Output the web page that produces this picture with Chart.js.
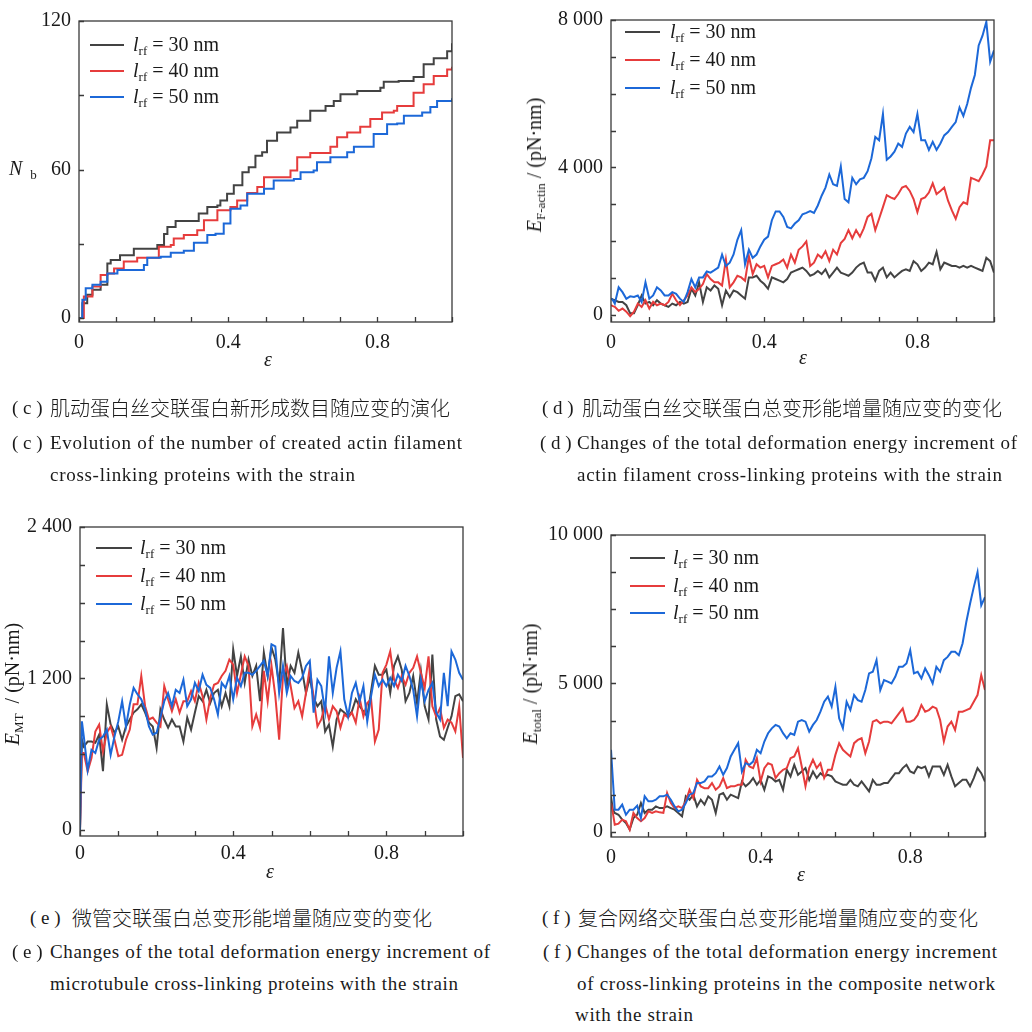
<!DOCTYPE html>
<html>
<head>
<meta charset="utf-8">
<script src="https://cdn.jsdelivr.net/npm/chart.js@4.4.1/dist/chart.umd.min.js"></script>
<style>
  body { margin: 0; background: #fff; }
  #page { position: relative; width: 1032px; height: 1032px; overflow: hidden;
          font-family: "Liberation Serif", "DejaVu Serif", serif; color: #1a1a1a; }
  canvas { position: absolute; display: block; }
  .t { position: absolute; white-space: nowrap; font-size: 20px; line-height: 20px; }
  .rot { transform: translate(-50%, -50%) rotate(-90deg); }
  .t sub { font-size: 13px; vertical-align: -4px; line-height: 0; }
  .sw { position: absolute; height: 2px; }
  .cap { position: absolute; white-space: nowrap; font-size: 19px; line-height: 20px; }
  .cn { font-family: "Noto Sans CJK SC", sans-serif; font-size: 20px; font-weight: 300; }
</style>
</head>
<body>
<div id="page">
  <canvas id="chartC" width="470" height="380" style="left:0;top:0"></canvas>
  <canvas id="chartD" width="512" height="380" style="left:520px;top:0"></canvas>
  <canvas id="chartE" width="470" height="390" style="left:0;top:500px"></canvas>
  <canvas id="chartF" width="512" height="390" style="left:520px;top:500px"></canvas>
</div>
<script>
// --- Data ---

const seriesColors = ["#434343", "#e63c3c", "#1c68d8"];
const legendLabels = ["30", "40", "50"];

// (c) number of created cross-links, read as step corners
const nbStrain30 = [0, 0.009, 0.022, 0.036, 0.058, 0.076, 0.085, 0.11, 0.147, 0.19,
  0.21, 0.228, 0.237, 0.259, 0.312, 0.321, 0.344, 0.371, 0.379, 0.397,
  0.415, 0.438, 0.455, 0.473, 0.491, 0.504, 0.531, 0.567, 0.585, 0.62,
  0.661, 0.683, 0.701, 0.746, 0.808, 0.817, 0.857, 0.897, 0.924, 0.951, 0.987, 1.0];
const nb30 = [0, 6, 9.4, 11.4, 13.4, 22, 23.4, 25.4, 28, 28,
  29.5, 34, 36.8, 39.2, 39.2, 42.2, 44.9, 45.5, 47.5, 50.2,
  53.6, 58.9, 60.9, 65.6, 67, 71.6, 75, 77, 79.7, 83.7,
  85.7, 87.7, 90.4, 91.7, 93, 95.5, 95.8, 97.4, 102.5, 105, 107.8, 111];
const nbStrain40 = [0, 0.013, 0.036, 0.058, 0.076, 0.094, 0.12, 0.156, 0.192, 0.214,
  0.246, 0.254, 0.281, 0.317, 0.335, 0.371, 0.406, 0.424, 0.451, 0.478,
  0.496, 0.54, 0.567, 0.585, 0.62, 0.674, 0.692, 0.719, 0.754, 0.781,
  0.8125, 0.844, 0.853, 0.884, 0.897, 0.924, 0.951, 0.987, 1.0];
const nb40 = [0, 8.7, 12.7, 17.4, 18, 20, 22.8, 24.4, 24.4, 28.8,
  29.5, 32.1, 33.5, 35.5, 39.5, 43.5, 44.9, 47.5, 50.5, 52.9,
  56.9, 56.9, 59.6, 65, 66.7, 69.2, 73, 75, 77.3, 80.4,
  83, 83.7, 85.7, 85.7, 91, 94.4, 97.8, 100.4, 101.5];
const nbStrain50 = [0, 0.009, 0.018, 0.036, 0.058, 0.076, 0.103, 0.147, 0.174, 0.183,
  0.219, 0.246, 0.281, 0.308, 0.344, 0.366, 0.388, 0.406, 0.433, 0.451,
  0.496, 0.522, 0.576, 0.594, 0.629, 0.638, 0.674, 0.719, 0.737, 0.777,
  0.79, 0.826, 0.853, 0.871, 0.92, 0.942, 0.96, 1.0];
const nb50 = [0, 7.4, 12, 13.4, 14.7, 18, 19.4, 19.4, 21.4, 24.4,
  24.8, 26.4, 27.2, 30.4, 33.5, 34.1, 38.2, 44.2, 45.5, 50.2,
  52.2, 55.6, 56.2, 58.9, 59.6, 62.9, 65, 67, 69.2, 69.2,
  74.3, 78.3, 78.6, 81.7, 83, 85.3, 87.7, 88.8];

// shared strain grid for (d), (e), (f)
const strain = [0, 0.005,
  0.01, 0.02, 0.03, 0.04, 0.05, 0.06, 0.07, 0.08, 0.09, 0.10,
  0.11, 0.12, 0.13, 0.14, 0.15, 0.16, 0.17, 0.18, 0.19, 0.20,
  0.21, 0.22, 0.23, 0.24, 0.25, 0.26, 0.27, 0.28, 0.29, 0.30,
  0.31, 0.32, 0.33, 0.34, 0.35, 0.36, 0.37, 0.38, 0.39, 0.40,
  0.41, 0.42, 0.43, 0.44, 0.45, 0.46, 0.47, 0.48, 0.49, 0.50,
  0.51, 0.52, 0.53, 0.54, 0.55, 0.56, 0.57, 0.58, 0.59, 0.60,
  0.61, 0.62, 0.63, 0.64, 0.65, 0.66, 0.67, 0.68, 0.69, 0.70,
  0.71, 0.72, 0.73, 0.74, 0.75, 0.76, 0.77, 0.78, 0.79, 0.80,
  0.81, 0.82, 0.83, 0.84, 0.85, 0.86, 0.87, 0.88, 0.89, 0.90,
  0.91, 0.92, 0.93, 0.94, 0.95, 0.96, 0.97, 0.98, 0.99, 1.00];

// (d) E F-actin
const eActin30 = [443, 420,
  400, 355, 355, 265, 45, 45, 265, 530, 310, 355,
  265, 400, 310, 265, 220, 310, 265, 355, 310, 355,
  710, 530, 885, 355, 750, 665, 800, 710, 265, 665,
  490, 665, 620, 530, 443, 1020, 1020, 1065, 930, 840,
  710, 1020, 975, 930, 885, 975, 1150, 1195, 1240, 1285,
  1195, 1065, 1110, 1195, 1110, 1240, 1020, 1150, 1285, 1150,
  1110, 1065, 1150, 1285, 1375, 1420, 1150, 1150, 930, 1195,
  1285, 1020, 1150, 1020, 1110, 1195, 1240, 1195, 1460, 1375,
  1195, 1285, 1420, 1375, 1710, 1240, 1420, 1375, 1330, 1330,
  1285, 1330, 1285, 1330, 1285, 1240, 1195, 1550, 1460, 1150];
const eActin40 = [265, 240,
  220, 115, 175, 90, -30, 90, 310, 220, 400, 175,
  355, 265, 310, 265, 355, 575, 400, 265, 400, 530,
  750, 620, 710, 840, 1110, 975, 885, 885, 800, 1505,
  750, 885, 1065, 1020, 930, 1595, 1110, 1375, 1285, 1330,
  1020, 1330, 1375, 1420, 1505, 1285, 1640, 1420, 1770, 1860,
  1995, 1330, 1420, 1640, 1550, 1730, 1460, 1770, 1640, 1950,
  2065, 2300, 2080, 2300, 2125, 2350, 2660, 2745, 2300, 2610,
  2925, 3250, 3190, 3145, 3280, 3455, 3500, 3365, 3145, 2790,
  3145, 3190, 3320, 3570, 3280, 3365, 3455, 3100, 2835, 2610,
  2925, 3055, 3010, 3720, 3680, 3630, 3810, 4030, 4740, 4740];
const eActin50 = [450, 400,
  310, 750, 620, 440, 505, 490, 530, 355, 885, 440,
  530, 750, 665, 530, 530, 620, 575, 443, 355, 620,
  975, 750, 1020, 1020, 1180, 1150, 1215, 1285, 1640, 1330,
  1420, 1640, 2040, 2300, 1375, 1770, 1550, 1640, 1860, 2040,
  2125, 2570, 2810, 2810, 2660, 2390, 2350, 2480, 2570, 2730,
  2770, 2820, 2770, 2970, 3235, 3455, 3810, 3545, 3500, 4030,
  3145, 3055, 3720, 3545, 3680, 3720, 3900, 4250, 4830, 4740,
  5450, 4210, 4300, 4430, 4650, 4560, 4920, 5100, 4960, 5450,
  4740, 4740, 4475, 4695, 4475, 4650, 4870, 4960, 5100, 5230,
  5630, 5400, 5720, 6160, 6510, 7310, 7575, 7950, 6870, 7180];

// (e) E MT
const eMT30 = [0, 715,
  660, 700, 700, 690, 755, 465, 995, 835, 770, 820,
  715, 820, 875, 930, 955, 995, 930, 850, 820, 650,
  955, 875, 810, 875, 820, 820, 700, 890, 795, 930,
  1060, 1020, 1110, 1005, 1085, 1110, 980, 1085, 980, 1430,
  1220, 1375, 1165, 1350, 1220, 1300, 1020, 1405, 1220, 1445,
  1350, 1150, 1600, 1140, 1300, 1245, 1405, 1260, 1085, 1205,
  1045, 980, 1020, 780, 835, 660, 875, 955, 930, 900,
  940, 1035, 980, 940, 900, 1100, 1300, 1230, 1230, 1270,
  1085, 1300, 1375, 1270, 1020, 1085, 1220, 1005, 1260, 980,
  875, 1390, 875, 740, 715, 810, 900, 1060, 1075, 1020];
const eMT40 = [0, 610,
  610, 465, 570, 780, 835, 620, 770, 820, 715, 585,
  595, 715, 795, 995, 995, 1220, 980, 875, 890, 850,
  820, 1140, 1035, 940, 1035, 930, 1020, 1020, 1100, 1020,
  1165, 1060, 875, 1045, 1150, 1165, 1220, 1260, 1350, 1310,
  1085, 1230, 1375, 1300, 820, 915, 810, 1260, 1020, 1300,
  1060, 715, 1220, 1300, 1140, 965, 1020, 900, 1085, 1285,
  1045, 820, 875, 995, 875, 980, 940, 810, 915, 890,
  930, 850, 1045, 900, 1005, 1035, 700, 795, 1245, 1310,
  1415, 1190, 1125, 1220, 1150, 1245, 1285, 1375, 1245, 1125,
  1375, 980, 900, 965, 810, 875, 850, 780, 980, 570];
const eMT50 = [0, 860,
  740, 475, 635, 610, 715, 740, 795, 595, 740, 860,
  1020, 820, 995, 1125, 1075, 1035, 955, 820, 755, 770,
  890, 1020, 1085, 980, 1110, 1085, 1190, 980, 1035, 1165,
  1100, 1230, 1150, 1125, 1035, 915, 1165, 1125, 1220, 1035,
  1205, 1140, 1245, 1245, 1230, 1260, 1300, 1340, 1220, 1470,
  1455, 1085, 1300, 1085, 1220, 1180, 1165, 1205, 1300, 1340,
  930, 1190, 1140, 940, 1375, 1085, 1285, 1415, 1035, 900,
  1085, 1165, 1020, 1140, 860, 1060, 1230, 1140, 1190, 1140,
  1205, 1140, 1230, 1180, 1300, 1220, 1110, 900, 1190, 1020,
  1110, 1165, 930, 875, 1245, 980, 1415, 1350, 1245, 1190];

// (f) E total
const eTotal30 = [1200, 750,
  640, 580, 415, 300, 80, 470, 580, 975, 640, 750,
  750, 860, 805, 805, 860, 805, 750, 640, 525, 1200,
  1085, 1255, 860, 1085, 920, 1200, 1085, 640, 1255, 1310,
  1085, 1255, 1200, 1140, 1700, 1535, 1645, 1815, 1590, 1755,
  1420, 1870, 1815, 1700, 1755, 1420, 2095, 1870, 2260, 1925,
  2035, 2150, 1755, 2035, 1815, 1980, 1870, 1925, 1870, 1700,
  1645, 1590, 1590, 1755, 1590, 1535, 1700, 1535, 1365, 1755,
  1590, 1590, 1645, 1645, 1815, 1980, 1980, 2150, 2260, 2035,
  1980, 2205, 2150, 2205, 1870, 2205, 2205, 2205, 1925, 2260,
  1870, 1535, 1645, 1755, 1755, 1535, 1815, 2150, 1980, 1700];
const eTotal40 = [975, 640,
  245, 280, 415, 360, 80, 640, 470, 360, 470, 695,
  640, 695, 660, 640, 1310, 975, 805, 860, 805, 1030,
  1420, 1140, 1755, 1535, 1475, 1475, 1645, 1420, 1535, 1815,
  1475, 1535, 1535, 1590, 1590, 2430, 2205, 2150, 2485, 1700,
  2150, 2315, 2260, 1815, 1980, 2095, 2150, 2485, 2540, 2820,
  2205, 1535, 2150, 2430, 2150, 2315, 1815, 2095, 2095, 2595,
  2990, 2765, 2650, 2540, 2990, 3100, 3155, 2650, 3045, 3715,
  3770, 3660, 3715, 3715, 3660, 3825, 3995, 4160, 3715, 3715,
  3770, 3940, 4275, 4050, 4105, 4220, 4160, 3770, 3045, 3550,
  3715, 3435, 4050, 4050, 4105, 4160, 4385, 4610, 5280, 4780];
const eTotal50 = [2765, 1760,
  750, 750, 920, 580, 750, 750, 885, 470, 1200, 1030,
  1030, 1085, 1200, 1200, 1255, 1085, 860, 695, 750, 975,
  1255, 1310, 1645, 1645, 1700, 1870, 1870, 1980, 2205, 1925,
  2150, 2540, 2765, 2990, 2035, 2315, 2260, 2370, 2765, 2650,
  3045, 3325, 3490, 3605, 3550, 3325, 3155, 3325, 3270, 3715,
  3770, 3715, 3380, 3605, 3770, 4050, 4385, 4555, 4220, 4890,
  3825, 3490, 4385, 4105, 4610, 4440, 4385, 4780, 5340, 5395,
  5785, 4780, 5115, 5060, 5000, 5225, 5560, 5560, 5675, 6120,
  5340, 5395, 5170, 5505, 5280, 5000, 5560, 5395, 5785, 5895,
  6065, 6065, 5950, 6345, 7070, 7685, 8245, 8750, 7630, 7910];

// --- Ticks ---

const xTickValues = [0, 0.1, 0.2, 0.3, 0.4, 0.5, 0.6, 0.7, 0.8, 0.9, 1.0];
const xTickLabels = ["0", "", "", "", "0.4", "", "", "", "0.8", "", ""];

const yTickValuesC = [0, 30, 60, 90, 120];
const yTickLabelsC = ["0", "", "60", "", "120"];
const yTickValuesD = [0, 1000, 2000, 3000, 4000, 5000, 6000, 7000, 8000];
const yTickLabelsD = ["0", "", "", "", "4 000", "", "", "", "8 000"];
const yTickValuesE = [0, 300, 600, 900, 1200, 1500, 1800, 2100, 2400];
const yTickLabelsE = ["0", "", "", "", "1 200", "", "", "", "2 400"];
const yTickValuesF = [0, 1250, 2500, 3750, 5000, 6250, 7500, 8750, 10000];
const yTickLabelsF = ["0", "", "", "", "5 000", "", "", "", "10 000"];

// --- Chart setup ---

const framePlugin = {
  id: "frame",
  afterDraw(chart) {
    const { ctx, chartArea: a, scales } = chart;
    ctx.save();
    ctx.strokeStyle = "#3a3a3a";
    ctx.lineWidth = 1.3;
    ctx.strokeRect(a.left, a.top, a.right - a.left, a.bottom - a.top);
    ctx.beginPath();
    scales.x.ticks.forEach((t) => {
      const px = Math.round(scales.x.getPixelForValue(t.value)) + 0.5;
      ctx.moveTo(px, a.bottom);
      ctx.lineTo(px, a.bottom - 5);
    });
    scales.y.ticks.forEach((t) => {
      const py = Math.round(scales.y.getPixelForValue(t.value)) + 0.5;
      ctx.moveTo(a.left, py);
      ctx.lineTo(a.left + 5, py);
    });
    ctx.stroke();
    ctx.restore();
  },
};

const tickFont = { family: "'Liberation Serif', serif", size: 20 };

function makePanel(id, cfg) {
  const datasets = cfg.series.map((s, i) => ({
    data: s.x.map((x, k) => ({ x: x, y: s.y[k] })),
    borderColor: seriesColors[i],
    borderWidth: 2,
    pointRadius: 0,
    tension: 0,
    fill: false,
    stepped: cfg.stepped || false,
    order: 3 - i,
  }));

  return new Chart(document.getElementById(id), {
    type: "line",
    data: { datasets },
    options: {
      responsive: false,
      animation: false,
      layout: { padding: { left: 0, top: cfg.top, right: cfg.right, bottom: 0 } },
      plugins: { legend: { display: false }, tooltip: { enabled: false } },
      scales: {
        x: {
          type: "linear",
          min: 0,
          max: 1,
          grid: { display: false, drawTicks: false },
          border: { display: false },
          afterBuildTicks: (s) => { s.ticks = xTickValues.map((v) => ({ value: v })); },
          afterFit: (s) => { s.height = cfg.xh; },
          ticks: {
            autoSkip: false, maxRotation: 0, padding: cfg.xpad, color: "#1a1a1a", font: tickFont,
            callback: (v, i) => xTickLabels[i],
          },
        },
        y: {
          type: "linear",
          min: cfg.ymin,
          max: cfg.ymax,
          grid: { display: false, drawTicks: false },
          border: { display: false },
          afterBuildTicks: (s) => { s.ticks = cfg.yTicks.map((v) => ({ value: v })); },
          afterFit: (s) => { s.width = cfg.yw; },
          ticks: {
            autoSkip: false, padding: 8, color: "#1a1a1a", font: tickFont,
            callback: (v, i) => cfg.yLabels[i],
          },
        },
      },
    },
    plugins: [framePlugin],
  });
}

makePanel("chartC", {
  series: [
    { x: nbStrain30, y: nb30 },
    { x: nbStrain40, y: nb40 },
    { x: nbStrain50, y: nb50 },
  ],
  stepped: true,
  ymin: -1.6, ymax: 120, yTicks: yTickValuesC, yLabels: yTickLabelsC,
  yw: 79, top: 21, right: 18, xh: 58, xpad: 9,
});

makePanel("chartD", {
  series: [
    { x: strain, y: eActin30 },
    { x: strain, y: eActin40 },
    { x: strain, y: eActin50 },
  ],
  ymin: -190, ymax: 8000, yTicks: yTickValuesD, yLabels: yTickLabelsD,
  yw: 91, top: 14, right: 38, xh: 58, xpad: 9,
});

makePanel("chartE", {
  series: [
    { x: strain, y: eMT30 },
    { x: strain, y: eMT40 },
    { x: strain, y: eMT50 },
  ],
  ymin: -48, ymax: 2400, yTicks: yTickValuesE, yLabels: yTickLabelsE,
  yw: 80, top: 27, right: 7, xh: 54, xpad: 6,
});

makePanel("chartF", {
  series: [
    { x: strain, y: eTotal30 },
    { x: strain, y: eTotal40 },
    { x: strain, y: eTotal50 },
  ],
  ymin: -170, ymax: 10000, yTicks: yTickValuesF, yLabels: yTickLabelsF,
  yw: 91, top: 35, right: 47, xh: 53, xpad: 9,
});

// --- Text overlays (legends, axis titles, captions) ---

const page = document.getElementById("page");

function addText(html, left, top, cls, style) {
  const el = document.createElement("div");
  el.className = cls;
  el.innerHTML = html;
  el.style.left = left + "px";
  el.style.top = top + "px";
  if (style) Object.assign(el.style, style);
  page.appendChild(el);
  return el;
}

// legend: [swatch left, swatch right, text left, row centers]
const legends = [
  [90, 124, 133, [45, 71, 97]],
  [625, 660, 670, [32, 60, 88]],
  [96, 132, 140, [548, 576, 604]],
  [630, 665, 673, [558, 586, 613]],
];
legends.forEach(([x1, x2, tx, rows]) => {
  rows.forEach((yc, i) => {
    const sw = document.createElement("div");
    sw.className = "sw";
    Object.assign(sw.style, {
      left: x1 + "px", top: yc - 1 + "px", width: x2 - x1 + "px", background: seriesColors[i],
    });
    page.appendChild(sw);
    addText("<i>l</i><sub>rf</sub> = " + legendLabels[i] + " nm", tx, yc - 11, "t");
  });
});

// x axis titles
[[268, 360], [803, 358], [270, 872], [801, 875]].forEach(([cx, cy]) => {
  addText("<i>ε</i>", cx - 4, cy - 11, "t");
});

// y axis titles
addText('<i>N</i><sub style="margin-left:8px">b</sub>', 9, 158, "t");
addText("<i>E</i><sub>F-actin</sub> / (pN·nm)", 534, 165, "t rot");
addText("<i>E</i><sub>MT</sub>&nbsp;&nbsp;/ (pN·nm)", 12, 684, "t rot");
addText("<i>E</i><sub>total</sub> / (pN·nm)", 530, 684, "t rot");

// captions: [text, left, center y, target width, chinese?]
const captions = [
  ["( c )", 12, 408, 0, false],
  ["肌动蛋白丝交联蛋白新形成数目随应变的演化", 50, 408, 0, true],
  ["( c )", 12, 443, 0, false],
  ["Evolution of the number of created actin filament", 50, 443, 412, false],
  ["cross-linking proteins with the strain", 50, 475, 305, false],
  ["( d )", 542, 408, 0, false],
  ["肌动蛋白丝交联蛋白总变形能增量随应变的变化", 582, 408, 0, true],
  ["( d )", 540, 443, 0, false],
  ["Changes of the total deformation energy increment of", 577, 443, 440, false],
  ["actin filament cross-linking proteins with the strain", 577, 475, 425, false],
  ["( e )", 30, 918, 0, false],
  ["微管交联蛋白总变形能增量随应变的变化", 72, 918, 0, true],
  ["( e )", 12, 952, 0, false],
  ["Changes of the total deformation energy increment of", 50, 952, 440, false],
  ["microtubule cross-linking proteins with the strain", 50, 984, 408, false],
  ["( f )", 542, 918, 0, false],
  ["复合网络交联蛋白总变形能增量随应变的变化", 578, 918, 0, true],
  ["( f )", 543, 952, 0, false],
  ["Changes of the total deformation energy increment", 577, 952, 420, false],
  ["of cross-linking proteins in the composite network", 577, 984, 418, false],
  ["with the strain", 575, 1015, 118, false],
];
captions.forEach(([text, left, yc, w, cn]) => {
  const el = addText(text, left, yc - 10, cn ? "cap cn" : "cap");
  el.textContent = text;
  if (w > 0) {
    const natural = el.getBoundingClientRect().width;
    el.style.letterSpacing = (w - natural) / (text.length - 1) + "px";
  }
});
</script>
</body>
</html>
